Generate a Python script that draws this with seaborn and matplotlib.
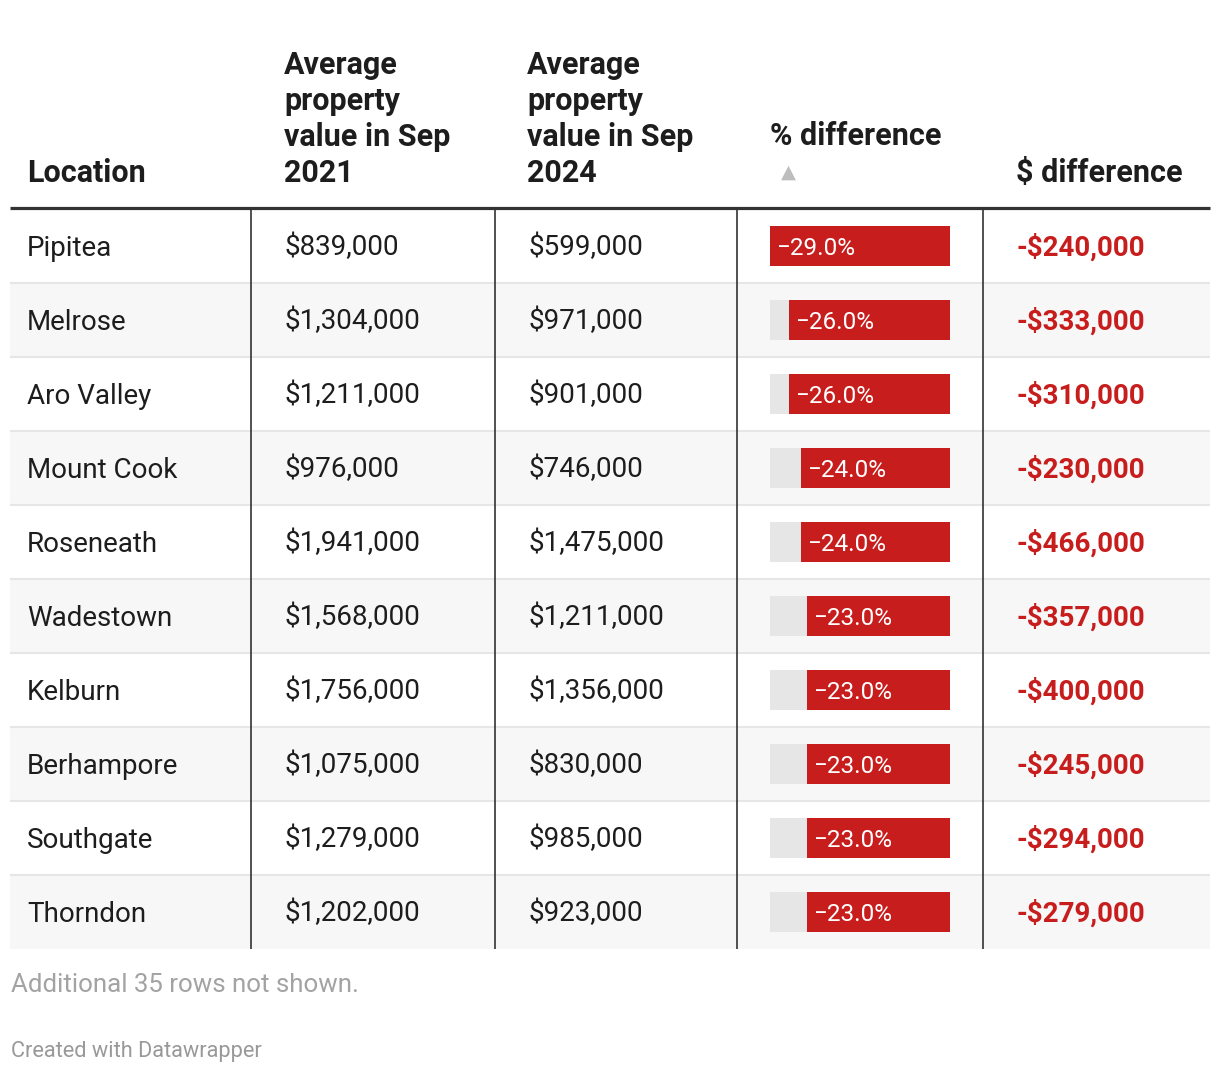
import matplotlib
matplotlib.use("Agg")
import matplotlib.pyplot as plt
import seaborn as sns
import pandas as pd

sns.set_theme(style="white")
plt.rcParams['font.family'] = ['Roboto', 'DejaVu Sans']

locations = ['Pipitea', 'Melrose', 'Aro Valley', 'Mount Cook', 'Roseneath',
             'Wadestown', 'Kelburn', 'Berhampore', 'Southgate', 'Thorndon']
value_2021 = [839000, 1304000, 1211000, 976000, 1941000,
              1568000, 1756000, 1075000, 1279000, 1202000]
value_2024 = [599000, 971000, 901000, 746000, 1475000,
              1211000, 1356000, 830000, 985000, 923000]
pct_diff = [-29.0, -26.0, -26.0, -24.0, -24.0, -23.0, -23.0, -23.0, -23.0, -23.0]
dollar_diff = [-240000, -333000, -310000, -230000, -466000,
               -357000, -400000, -245000, -294000, -279000]

headers = ['Location', 'Average\nproperty\nvalue in Sep\n2021',
           'Average\nproperty\nvalue in Sep\n2024', '% difference', '$ difference']
note = 'Additional 35 rows not shown.'
credit = 'Created with Datawrapper'

df = pd.DataFrame({'location': locations, 'v21': value_2021, 'v24': value_2024,
                   'pct': pct_diff, 'diff': dollar_diff})
df['track'] = df['pct'].min()

RED = '#c71e1d'
INK = '#1d1d1d'
W, H = 1220, 1074
top, row_h = 209, 74
n = len(df)
BODY = 20

fig = plt.figure(figsize=(W / 100, H / 100), dpi=100)
ax = fig.add_axes([0, 0, 1, 1])
ax.set_xlim(0, W)
ax.set_ylim(H, 0)
ax.axis('off')

# row shading and separators
for i in range(n):
    y0 = top + i * row_h
    if i % 2 == 1:
        ax.axhspan(y0, y0 + row_h, xmin=10 / W, xmax=1210 / W, color='#f7f7f7', lw=0, zorder=0)
    if i > 0:
        ax.hlines(y0, 10, 1210, color='#e6e6e6', lw=1.5, zorder=1)
ax.hlines(207.5, 10, 1210, color='#333333', lw=2.3, zorder=3)
ax.vlines([251, 495, 737, 983], top, top + n * row_h, color='#333333', lw=1.2, zorder=3)

# headers
hdr_x = [27, 284, 527, 770, 1016]
for j, (x, h) in enumerate(zip(hdr_x, headers)):
    yb = 145 if j == 3 else 182
    ax.text(x, yb, h, fontsize=22, fontweight='bold', color=INK,
            va='baseline', ha='left', linespacing=1.25)
ax.text(788, 172, '\u25B2', fontsize=14, color='#bdbdbd', ha='center', va='center',
        family=['DejaVu Sans'])

# body text
for i, r in df.iterrows():
    yb = top + i * row_h + row_h / 2 + 9.5
    ax.text(27, yb, r['location'], fontsize=BODY, color=INK, va='baseline')
    ax.text(285, yb, f"${r['v21']:,}", fontsize=BODY, color=INK, va='baseline')
    ax.text(528, yb, f"${r['v24']:,}", fontsize=BODY, color=INK, va='baseline')
    ax.text(1017, yb, f"-${abs(r['diff']):,}", fontsize=BODY, color=RED,
            fontweight='bold', va='baseline')

ax.text(11, 992, note, fontsize=18.6, color='#a3a3a3', va='baseline')
ax.text(11, 1057, credit, fontsize=15.7, color='#999999', va='baseline')

# bar column
bx = fig.add_axes([770 / W, 1 - (top + n * row_h) / H, 180 / W, n * row_h / H])
sns.barplot(data=df, x='track', y='location', orient='h', color='#e6e6e6',
            width=40 / 74, ax=bx, saturation=1, linewidth=0, zorder=1)
sns.barplot(data=df, x='pct', y='location', orient='h', color=RED,
            width=40 / 74, ax=bx, saturation=1, linewidth=0, zorder=2)
bx.set_xlim(df['pct'].min(), 0)
bx.set_ylim(n - 0.5, -0.5)
for i, v in enumerate(df['pct']):
    bx.annotate(f"\u2212{abs(v):.1f}%", (v, i), xytext=(4.5, -6.2), textcoords='offset points',
                color='white', fontsize=17.5, va='baseline', ha='left')
bx.axis('off')
bx.patch.set_alpha(0)

fig.savefig('out.png', dpi=100)
